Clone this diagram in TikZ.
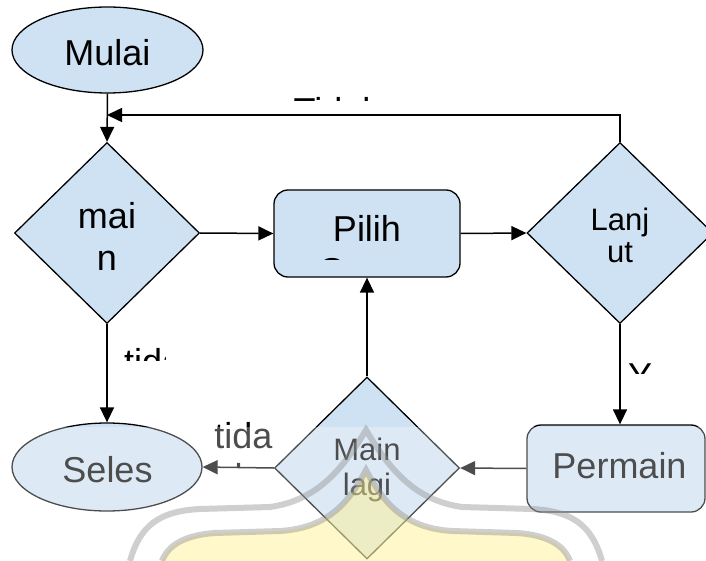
\documentclass[tikz,border=0pt]{standalone}
\usepackage{fontspec}
\setmainfont{Liberation Sans}
\usetikzlibrary{shapes.geometric,arrows.meta}
\definecolor{boxfill}{HTML}{CFE2F3}
\definecolor{crestgray}{HTML}{8C8C8C}
\definecolor{crestgold}{HTML}{FFF08A}
\begin{document}
\begin{tikzpicture}[x=1pt, y=-1pt,
  font=\fontsize{36}{41}\selectfont,
  flow/.style={line width=1.5pt, -{Triangle[length=15pt,width=14pt]}},
  decision/.style={diamond, draw, fill=boxfill, inner sep=0pt, line width=1.3pt},
  terminal/.style={ellipse, draw, fill=boxfill, inner sep=0pt, line width=1.3pt},
  process/.style={rectangle, rounded corners=14pt, draw, fill=boxfill, inner sep=0pt, line width=1.3pt},
  caption/.style={anchor=base, inner sep=0pt},
  small/.style={font=\fontsize{31}{35}\selectfont},
  crestline/.style={crestgray, opacity=0.42, line width=6pt}]
\useasboundingbox (0,0) rectangle (706,561);
\clip (0,0) rectangle (706,561);

% shapes
\node[terminal, minimum width=191pt, minimum height=86pt] (mulai) at (107.5,50) {};
\node[caption] (mulaitxt) at (107.5,66) {Mulai};

\node[decision, minimum width=185pt, minimum height=181pt] (main) at (107,233) {};
\node[caption] (maitxt) at (107,229) {mai};
\node[caption] (ntxt) at (107,270) {n};

\node[process, minimum width=186pt, minimum height=87pt] (pilih) at (367,233.5) {};
\node[caption] (pilihtxt) at (367,242) {Pilih};
\begin{scope}
  \clip (300,250) rectangle (440,259.5);
  \node[caption] (gametxt) at (367,283) {Game};
\end{scope}

\node[decision, minimum width=186pt, minimum height=181pt] (lanjut) at (620,233) {};
\node[caption, small] (lanjtxt) at (620,230) {Lanj};
\node[caption, small] (uttxt) at (620,262) {ut};

\node[process, minimum width=178pt, minimum height=87pt] (permain) at (616,468.5) {};
\node[caption] (permaintxt) at (619.5,478) {Permain};

\node[decision, minimum width=185pt, minimum height=182pt] (lagi) at (367,468) {};
\node[caption, small] (maintxt) at (367,460) {Main};
\node[caption, small] (lagitxt) at (367,495) {lagi};

\node[terminal, minimum width=190pt, minimum height=88pt] (seles) at (107,467) {};
\node[caption] (selestxt) at (107.5,482) {Seles};

% connectors
\coordinate (loop) at (107,115);
\draw[flow] (mulai.south) -- (main.north);
\draw[flow] (main.east) -- (pilih.west);
\draw[flow] (pilih.east) -- (lanjut.west);
\draw[flow] (lanjut.north) |- (loop);
\draw[flow] (lanjut.south) -- (lanjut.south |- permain.north);
\draw[flow] (main.south) -- (seles.north);
\draw[flow] (permain.west) -- (lagi.east);
\draw[flow] (lagi.west) -- (seles.east);
\draw[flow] (lagi.north) -- (pilih.south);

% connector labels (partly hidden)
\begin{scope}
  \clip (280,96) rectangle (400,100.5);
  \node[caption] (tidaktop) at (337,123.8) {Tidak};
\end{scope}
\begin{scope}
  \clip (115,340) rectangle (165,360);
  \node[caption, anchor=base west] (tidakleft) at (124,374) {tidak};
\end{scope}
\begin{scope}
  \clip (620,355) rectangle (665,373);
  \node[caption] (ya) at (640,388) {Y};
\end{scope}
\node[caption] (tidabottom) at (243.5,448) {tida};
\begin{scope}
  \clip (225,455) rectangle (260,466);
  \node[caption] (ktxt) at (243.5,489) {k};
\end{scope}

% faded lower band with crest
\fill[white, opacity=0.3] (0,427) rectangle (706,561);
\fill[crestgold, opacity=0.45] (162,561) .. controls (168,545) and (185,535) .. (215,533)
  -- (280,531) .. controls (330,528) and (350,500) .. (366,470)
  .. controls (382,500) and (402,528) .. (452,531) -- (517,533)
  .. controls (547,535) and (564,545) .. (570,561) -- cycle;
\draw[crestline]
  (130,561) .. controls (140,525) and (160,511) .. (200,509) -- (270,507)
  .. controls (320,500) and (345,465) .. (366,430)
  .. controls (387,465) and (412,500) .. (462,507) -- (532,509)
  .. controls (572,511) and (592,525) .. (602,561);
\draw[crestline]
  (162,561) .. controls (168,545) and (185,535) .. (215,533) -- (280,531)
  .. controls (330,528) and (350,500) .. (366,470)
  .. controls (382,500) and (402,528) .. (452,531) -- (517,533)
  .. controls (547,535) and (564,545) .. (570,561);
\end{tikzpicture}
\end{document}
